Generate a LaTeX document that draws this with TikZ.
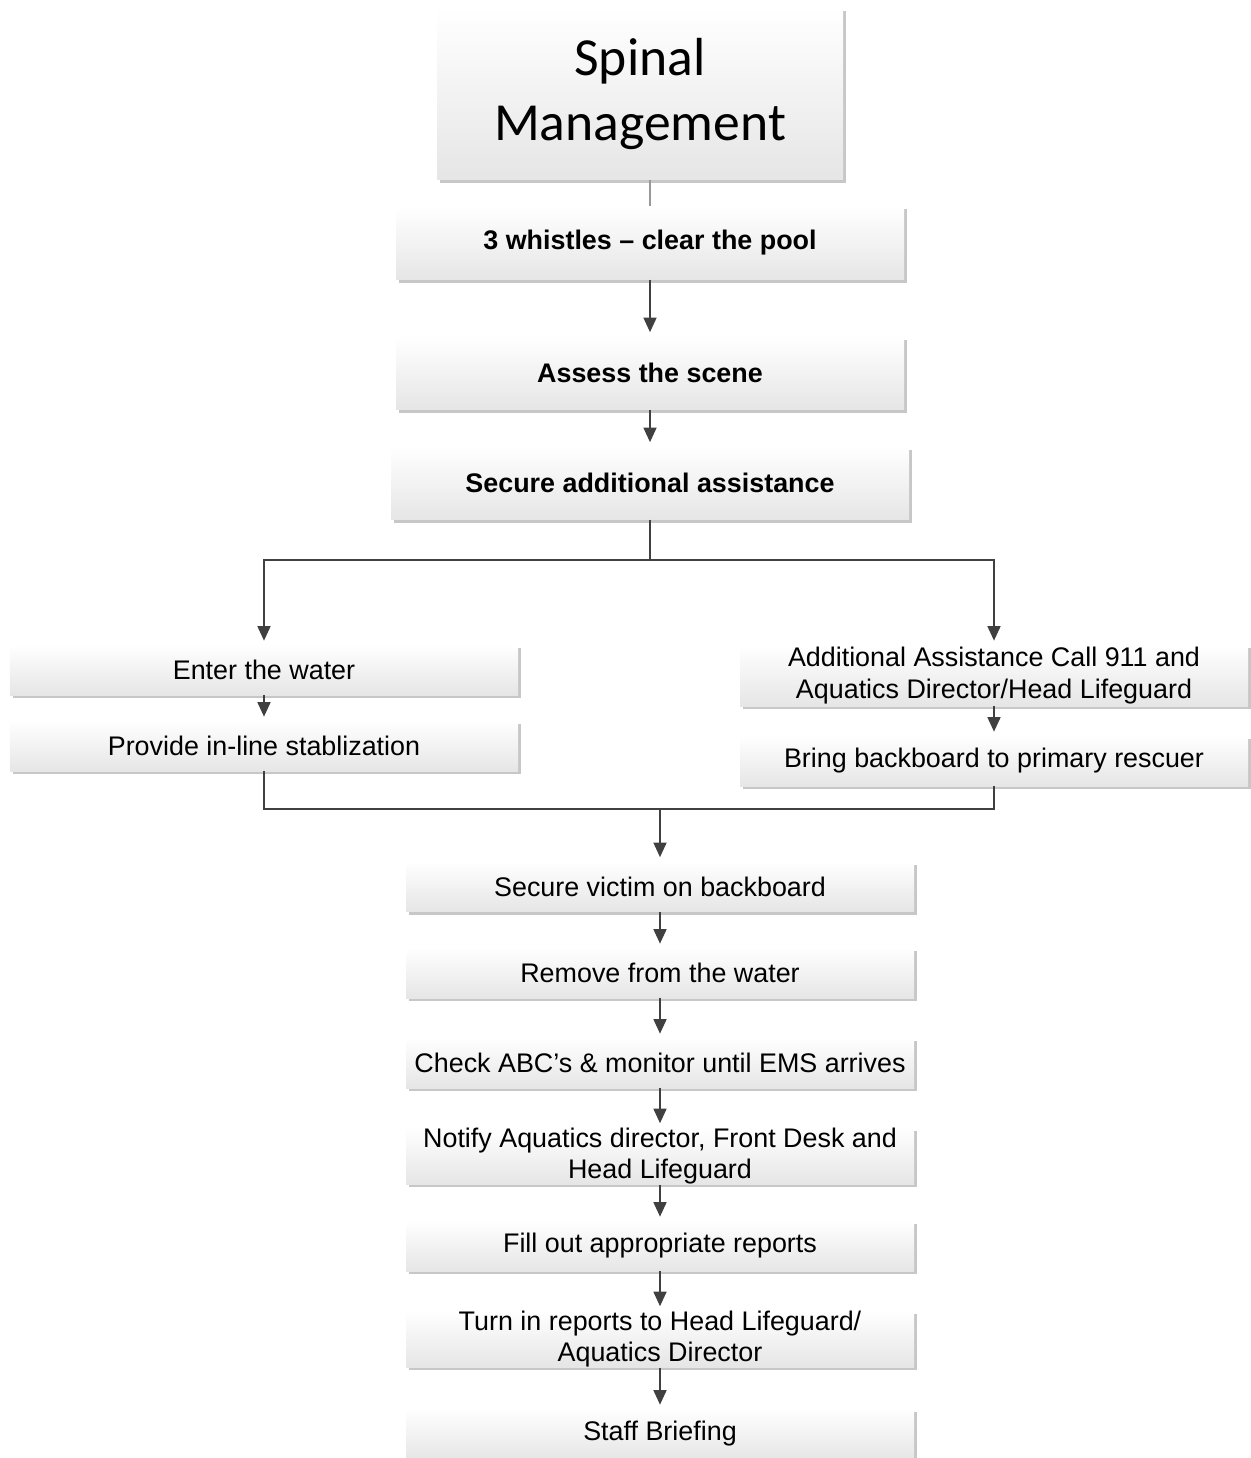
\documentclass[tikz,border=0pt]{standalone}
\usepackage{fontspec}
\setmainfont{Liberation Sans}
\newfontfamily\titlefont{Carlito}
\newcommand{\boxfont}{\fontsize{15.3}{18.1}\selectfont}
\usetikzlibrary{arrows.meta,positioning,shadows}

\begin{document}
\begin{tikzpicture}[>={Triangle[length=2.9mm,width=2.6mm]},box/.style={top color=white,bottom color=black!10,minimum width=101.6mm,minimum height=10mm,inner ysep=0pt,align=center,font=\boxfont,drop shadow={shadow xshift=0.6mm,shadow yshift=-0.6mm,fill=black!22,opacity=1}},bold/.style={box,font=\boxfont\bfseries,minimum height=14.6mm},head/.style={box,minimum width=81.2mm,minimum height=34.4mm,font=\titlefont\fontsize{30.5}{36.9}\selectfont},arr/.style={->,draw=black!75,line width=0.9pt,shorten >=0.8mm},line/.style={draw=black!75,line width=0.9pt},link/.style={draw=black!40,line width=0.6pt}]
\useasboundingbox (0,0) rectangle (25,-29.16);
\node[head] (title) at (12.8,-1.88) {Spinal\\Management};
\node[bold] (whistles) at (13,-4.86) {3 whistles -- clear the pool};
\node[bold] (assess) at (13,-7.46) {Assess the scene};
\node[bold,minimum width=103.6mm] (secure) at (13,-9.66) {Secure additional assistance};
\node[box] (enter) at (5.28,-13.4) {Enter the water};
\node[box] (provide) at (5.28,-14.92) {Provide in-line stablization};
\node[box,minimum height=12.2mm] (addl) at (19.88,-13.51) {Additional Assistance Call 911 and\\Aquatics Director/Head Lifeguard};
\node[box] (bring) at (19.88,-15.22) {Bring backboard to primary rescuer};
\node[box] (sv) at (13.2,-17.73) {Secure victim on backboard};
\node[box] (remove) at (13.2,-19.46) {Remove from the water};
\node[box] (check) at (13.2,-21.26) {Check ABC’s \& monitor until EMS arrives};
\node[box] (notify) at (13.2,-23.12) {Notify Aquatics director, Front Desk and\\Head Lifeguard};
\node[box] (fill) at (13.2,-24.92) {Fill out appropriate reports};
\node[box] (turn) at (13.2,-26.78) {Turn in reports to Head Lifeguard/\\Aquatics Director};
\node[box] (staff) at (13.2,-28.68) {Staff Briefing};
\draw[link] (title.south -| whistles) -- (whistles);
\draw[arr] (whistles) -- (assess);
\draw[arr] (assess) -- (secure);
\draw[line] (secure.south) -- ++(0,-0.8) coordinate (split);
\draw[arr] (split) -| (enter);
\draw[arr] (split) -| (addl);
\draw[arr] (enter) -- (provide);
\draw[arr] (addl) -- (bring);
\path (sv.north) ++(0,1.04) coordinate (merge);
\draw[line] (provide.south) |- (merge) -| (bring.south);
\draw[arr] (merge) -- (sv);
\foreach \a/\b in {sv/remove,remove/check,check/notify,notify/fill,fill/turn,turn/staff}
  \draw[arr] (\a) -- (\b);
\end{tikzpicture}
\end{document}
